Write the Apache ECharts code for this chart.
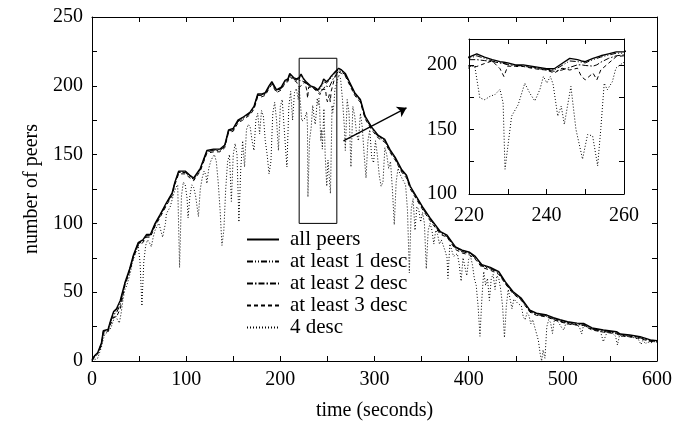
<!DOCTYPE html>
<html>
<head>
<meta charset="utf-8">
<script src="https://cdn.jsdelivr.net/npm/echarts@6/dist/echarts.min.js"></script>
<style>
  html, body { margin: 0; padding: 0; background: #fff; }
  #chart { width: 690px; height: 427px; }
</style>
</head>
<body>
<div id="chart"></div>
<script>
'use strict';

// sample times shared by the solid and the three "at least" curves
const times = [0, 3, 6, 10, 12, 17, 20, 23, 26, 30, 35, 40, 44, 49, 54, 58, 62, 67, 72, 79,
    85, 88, 92, 99, 104, 108, 115, 122, 129, 136, 141, 145, 150, 155, 160, 164, 168, 172, 176, 180,
    184, 188, 191, 196, 201, 205, 208, 210, 214, 217, 220, 222, 224, 226, 228, 229, 230, 232, 234, 236,
    238, 240, 242, 244, 246, 248, 249, 250, 252, 253, 254, 256, 258, 260, 262, 265, 269, 274, 279, 285,
    290, 297, 304, 311, 317, 322, 329, 334, 338, 345, 352, 359, 370, 377, 386, 393, 401, 407, 414, 423,
    432, 439, 447, 456, 465, 472, 483, 490, 497, 505, 515, 522, 531, 543, 557, 561, 571, 582, 593, 600];

const allPeers = [1, 4, 6, 13, 22, 23, 30, 36, 38, 44, 57, 67, 77, 86, 88, 92, 92, 100, 106, 115,
    122, 130, 138, 138, 135, 133, 140, 153, 154, 154, 157, 168, 169, 175, 177, 179, 181, 185, 194, 194,
    195, 200, 203, 197, 199, 204, 205, 209, 206, 205,
    206, 208.5, 206, 204, 202.5, 202, 201.5, 200, 200, 199, 198, 197, 197, 201, 205, 204, 203, 202.5, 205, 206, 207, 208.5, 210, 210,
    212.7, 211.5, 209, 202, 195, 190, 178, 170, 164, 161, 153, 148, 139, 135, 127, 119, 111, 104, 94, 91.5,
    83, 80.5, 79, 76, 70, 68, 65, 57.5, 50.5, 45.5, 37, 34.7, 33.4, 31.5, 30, 28.5, 27.5, 27.3, 24, 22.5,
    21.3, 19.6, 18.9, 17.7, 15.3, 14.8];

const desc1 = [1, 4, 6, 12.5, 21.5, 22.5, 29.5, 35.5, 37, 43, 56.5, 66.5, 76.5, 85.5, 87.5, 91.5, 91.5, 99.5, 105.5, 114.5,
    121.5, 129.5, 137.5, 137.5, 134.5, 132.5, 139.5, 152.5, 153.5, 153.5, 156.5, 167.5, 168.5, 174.5, 176.5, 178.5, 180.5, 184.5, 193.5, 193.5,
    194.5, 199.5, 202.5, 196.5, 198.5, 203.5, 204.5, 208.5, 205.5, 204.5,
    205, 207, 205, 203, 201.5, 201, 200.5, 199.5, 199.5, 198.5, 197.5, 196.5, 196, 199.5, 203, 202.5, 202, 201.5, 204, 205, 206, 207.5, 209, 209,
    212, 211, 208.5, 201.5, 194.5, 189.5, 177.5, 169.5, 163.5, 160.5, 152.5, 147.5, 138.5, 134.5, 126.5, 118.5, 110.5, 103.5, 93.5, 91,
    82.5, 80, 78.5, 75.5, 69.5, 67.5, 64.5, 57, 50, 45, 36.5, 34.2, 33, 31, 29.5, 28, 27, 26.8, 23.5, 22,
    20.8, 19.2, 18.5, 17.3, 15, 14.5];

const desc2 = [0.5, 3.5, 5.5, 12, 21, 22, 29, 34, 35, 41, 56, 66, 76, 85, 87, 91, 91, 99, 105, 114,
    121, 129, 137, 137, 134, 132, 139, 152, 153, 153, 156, 167, 168, 174, 176, 178, 180, 184, 193, 193,
    194, 199, 202, 196, 198, 203, 204, 208, 205, 204,
    204, 204, 203.3, 202.5, 201.5, 201, 200, 199.5, 199, 198, 197, 196, 195, 196, 198, 200, 200, 199.5, 199, 200, 202, 205, 207, 207.7,
    211, 210, 208, 201, 194, 189, 177, 169, 163, 160, 152, 147, 138, 134, 126, 118, 110, 103, 93, 90.5,
    82, 79.5, 78, 75, 69, 67, 64, 56.5, 49.5, 44.5, 36, 33.7, 32.5, 30.5, 29, 27.5, 26.5, 26.3, 23, 21.5,
    20.3, 18.8, 18, 16.8, 14.6, 14.3];

const desc3 = [0, 3, 5, 11.5, 20, 21.5, 27, 32, 32, 38, 55, 65, 75, 84, 86, 90, 90, 98, 104, 113,
    120, 128, 136, 136, 133, 131, 138, 151, 152, 152, 155, 166, 167, 173, 175, 177, 179, 183, 192, 192,
    193, 198, 201, 195, 197, 202, 203, 207, 204, 203,
    199, 198.7, 201, 203, 197, 191, 199, 198.7, 198.7, 197.5, 196.5, 196, 193.6, 197.4, 196, 197.4, 191, 188.4, 193.6, 188.4, 196, 201.2, 206.4, 207,
    210, 209, 207, 200, 193, 188, 176, 168, 162, 159, 151, 146, 137, 133, 125, 117, 109, 102, 92, 90,
    81, 78.5, 77, 74, 68, 66, 63, 56, 49, 44, 35.5, 33.2, 32, 30, 28.5, 27, 26, 25.8, 22.5, 21,
    19.8, 18.3, 17.5, 16.3, 14.2, 13.8];

// "4 desc" has its own, denser samples: [time, peers]
const desc4 = [[0, 0], [3, 1], [6, 2], [8, 6], [10, 10], [12, 16], [14, 20], [17, 21], [20, 24], [23, 30],
    [25, 33], [27, 30], [29, 27.5], [31, 35], [33, 45], [35, 52], [37, 55], [39, 60], [41, 65], [43, 72],
    [45, 76], [47, 80], [49, 84], [51, 72], [53, 40], [55, 72], [57, 84], [59, 88], [61, 86], [63, 83],
    [65, 90], [67, 95], [69, 98], [71, 100], [73, 99], [75, 90], [76, 89], [78, 100], [79, 107], [81, 108],
    [83, 112], [85, 117], [87, 122], [89, 126], [91, 128], [93, 68], [95, 120], [97, 130], [99, 128], [101, 118],
    [102, 104], [104, 120], [106, 128], [108, 126], [110, 120], [112, 110], [113, 105], [115, 125], [117, 133], [119, 138],
    [121, 135], [122, 129], [124, 140], [126, 145], [128, 148], [130, 150], [132, 145], [134, 130], [136, 110], [138, 84],
    [140, 95], [142, 125], [144, 145], [146, 150], [148, 116], [150, 150], [152, 158], [154, 150], [156, 101], [158, 140],
    [160, 160], [162, 141], [164, 168], [166, 172], [168, 170], [170, 160], [172, 153], [174, 175], [176, 180], [178, 165],
    [180, 182], [182, 178], [184, 160], [186, 150], [188, 136], [190, 145], [192, 180], [194, 188], [196, 175], [198, 153],
    [200, 185], [202, 190], [204, 170], [206, 150], [207, 141], [209, 185], [211, 196], [213, 175], [215, 195], [217, 198],
    [219, 190], [220, 199], [221.5, 198.7], [222.8, 174.3], [224.1, 173], [225.4, 175.6], [226.7, 177], [228, 181], [228.8, 170.5], [229.3, 119.2],
    [231, 160.3], [232.7, 169.2], [234.4, 185.8], [235.7, 178], [237, 172], [238.3, 181], [239.2, 191], [240.1, 186], [241, 191], [241.7, 185],
    [242.9, 160.3], [243.8, 168], [244.6, 154], [246.3, 183.3], [247.6, 150], [249.3, 127], [250.6, 146], [251.9, 145], [253.2, 121.8], [254, 150],
    [254.9, 185.8], [255.7, 180.7], [257, 187], [257.9, 197.4], [259, 200], [260, 202], [262, 208], [264, 205], [266, 190], [268, 170],
    [269, 153], [271, 190], [273, 180], [275, 141], [277, 185], [279, 178], [281, 165], [283, 160], [285, 180], [287, 170],
    [289, 150], [291, 133], [293, 160], [295, 168], [297, 148], [299, 144], [301, 160], [303, 150], [305, 135], [307, 127],
    [309, 130], [311, 155], [313, 150], [315, 140], [317, 145], [319, 125], [321, 99], [323, 130], [325, 140], [327, 136],
    [329, 133], [331, 132], [333, 128], [335, 110], [337, 64], [339, 110], [341, 118], [343, 95], [345, 112], [347, 110],
    [349, 101], [351, 108], [353, 100], [355, 67], [357, 95], [359, 100], [361, 95], [363, 85], [365, 95], [367, 92],
    [369, 85], [371, 88], [373, 88], [375, 80], [377, 75], [378, 60], [380, 85], [382, 84], [384, 76], [386, 76],
    [388, 78], [390, 70], [392, 58], [394, 75], [396, 76], [398, 62], [400, 74], [402, 76], [404, 70], [406, 60],
    [408, 55], [410, 40], [412, 18], [414, 45], [416, 65], [418, 55], [420, 60], [422, 44], [424, 60], [426, 63],
    [428, 52], [430, 62], [432, 60], [434, 52], [436, 40], [438, 17], [440, 40], [442, 52], [444, 45], [446, 38],
    [448, 45], [450, 45], [452, 42], [454, 42], [456, 40], [458, 32], [460, 30], [462, 35], [464, 33], [466, 27],
    [468, 30], [470, 25], [472, 20], [474, 15], [476, 5], [477.5, 0], [479, 8], [481, 2], [483, 25], [485, 30],
    [487, 28], [489, 20], [491, 30], [493, 29], [495, 28.5], [497, 28], [499, 24], [501, 22.5], [503, 27], [505, 27],
    [510, 26.5], [515, 26.5], [518, 24], [520, 19.6], [522, 26], [528, 24], [534, 22.5], [540, 21.5], [543, 14], [545, 13],
    [547, 21], [552, 20.5], [556, 18], [558, 11.6], [560, 18], [565, 18], [570, 18], [575, 17], [580, 16], [583, 12],
    [585, 15], [588, 12.5], [590, 14], [593, 13], [596, 14], [600, 14]];

const legendNames = ['all peers', 'at least 1 desc', 'at least 2 desc', 'at least 3 desc', '4 desc'];
const zoomBox = [[220, 100], [260, 220]];
const arrowFrom = [267, 160];
const arrowTo = [334, 184];

const font = '"Liberation Serif", "DejaVu Serif", serif';

function zip(xs, ys) {
    return xs.map((x, i) => [x, ys[i]]);
}

const styles = [
    { width: 1.4, type: 'solid' },
    { width: 1, type: [6, 2, 1, 2, 1, 2] },
    { width: 1, type: [6, 2, 1.5, 2] },
    { width: 1, type: [4, 3] },
    { width: 1, type: [1, 2] }
];
const seriesData = [zip(times, allPeers), zip(times, desc1), zip(times, desc2), zip(times, desc3), desc4];

function axis(opts, labelEvery, showLabel) {
    return Object.assign({
        type: 'value',
        axisLine: { show: true, onZero: false, lineStyle: { color: '#000', width: 1 } },
        axisTick: { show: true, inside: true, length: 5, lineStyle: { color: '#000' } },
        splitLine: { show: false },
        axisLabel: {
            show: showLabel,
            color: '#000',
            fontFamily: font,
            fontSize: 20,
            margin: 9,
            showMinLabel: true,
            showMaxLabel: true,
            formatter: v => (v % labelEvery === 0 ? String(v) : '')
        }
    }, opts);
}

const xAxes = [
    axis({ gridIndex: 0, min: 0, max: 600, interval: 50, position: 'bottom',
        name: 'time (seconds)', nameLocation: 'middle', nameGap: 40,
        nameTextStyle: { color: '#000', fontFamily: font, fontSize: 20 } }, 100, true),
    axis({ gridIndex: 0, min: 0, max: 600, interval: 50, position: 'top' }, 100, false),
    axis({ gridIndex: 1, min: 220, max: 260, interval: 10, position: 'bottom' }, 20, true),
    axis({ gridIndex: 1, min: 220, max: 260, interval: 10, position: 'top' }, 20, false)
];
xAxes[2].axisLabel.margin = 12;

const yAxes = [
    axis({ gridIndex: 0, min: 0, max: 250, interval: 25, position: 'left',
        name: 'number of peers', nameLocation: 'middle', nameGap: 48,
        nameTextStyle: { color: '#000', fontFamily: font, fontSize: 20 } }, 50, true),
    axis({ gridIndex: 0, min: 0, max: 250, interval: 25, position: 'right' }, 50, false),
    axis({ gridIndex: 1, min: 100, max: 220, interval: 25, position: 'left' }, 50, true),
    axis({ gridIndex: 1, min: 100, max: 220, interval: 25, position: 'right' }, 50, false)
];
yAxes[2].axisLabel.margin = 12;

const series = [];
[0, 1].forEach(g => {
    legendNames.forEach((name, i) => {
        const s = {
            name: name,
            type: 'line',
            xAxisIndex: g * 2,
            yAxisIndex: g * 2,
            data: seriesData[i],
            symbol: 'none',
            clip: true,
            z: 10 - i,
            lineStyle: { color: '#000', width: styles[i].width, type: styles[i].type },
            itemStyle: { color: '#000' }
        };
        if (g === 0 && i === 0) {
            s.markArea = {
                silent: true,
                itemStyle: { color: 'rgba(0,0,0,0)', borderColor: '#000', borderWidth: 1 },
                data: [[{ coord: zoomBox[0] }, { coord: zoomBox[1] }]]
            };
            s.markLine = {
                silent: true,
                symbol: ['none', 'arrow'],
                symbolSize: 9,
                label: { show: false },
                lineStyle: { color: '#000', width: 1.3, type: 'solid' },
                data: [[{ coord: arrowFrom }, { coord: arrowTo }]]
            };
        }
        series.push(s);
    });
});

const chart = echarts.init(document.getElementById('chart'), null, { renderer: 'canvas' });
chart.setOption({
    animation: false,
    backgroundColor: '#fff',
    grid: [
        { left: 92, top: 17, right: 33, bottom: 66 },
        { left: 469, top: 39, width: 155, height: 155 }
    ],
    legend: {
        data: legendNames,
        orient: 'vertical',
        left: 241,
        top: 224,
        itemWidth: 32,
        itemHeight: 12,
        itemGap: 1,
        itemStyle: { opacity: 0 },
        textStyle: { color: '#000', fontFamily: font, fontSize: 21, lineHeight: 20, padding: [0, 0, 0, 6] },
        inactiveColor: '#000',
        selectedMode: false
    },
    xAxis: xAxes,
    yAxis: yAxes,
    series: series
});
</script>
</body>
</html>
